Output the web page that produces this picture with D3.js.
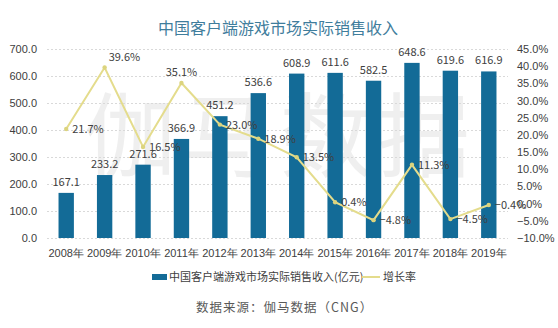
<!DOCTYPE html>
<html><head><meta charset="utf-8">
<script src="https://d3js.org/d3.v7.min.js"></script>
<style>
html,body{margin:0;padding:0;background:#fff;}
svg{display:block;font-family:"Noto Sans CJK SC","Noto Sans",sans-serif;}
</style></head>
<body>
<svg id="c" width="558" height="328"></svg>
<script>
const years = ["2008年","2009年","2010年","2011年","2012年","2013年","2014年","2015年","2016年","2017年","2018年","2019年"];
const revenue = [167.1,233.2,271.6,366.9,451.2,536.6,608.9,611.6,582.5,648.6,619.6,616.9];
const growth = [21.7,39.6,16.5,35.1,23.0,18.9,13.5,0.4,-4.8,11.3,-4.5,-0.4];
const leftTicks = [0,100,200,300,400,500,600,700];
const rightTicks = [-10,-5,0,5,10,15,20,25,30,35,40,45];
const titleText = "中国客户端游戏市场实际销售收入";
const barName = "中国客户端游戏市场实际销售收入(亿元)";
const lineName = "增长率";
const sourceText = "数据来源：伽马数据（CNG）";
const labelPos = ["r","tr","r","t","r","r","r","r","r","r","r","r"];

const svg = d3.select("#c");
const plotTop = 49, plotBottom = 238, plotLeft = 47, plotRight = 508;
const x = d3.scaleBand().domain(years).range([plotLeft, plotRight]).paddingInner(0.6).paddingOuter(0.3);
const yL = d3.scaleLinear().domain([0,700]).range([plotBottom, plotTop]);
const yR = d3.scaleLinear().domain([-10,45]).range([plotBottom, plotTop]);

// watermark
svg.append("text").attr("x", 280).attr("y", 170).attr("text-anchor","middle")
  .attr("font-size", 92).attr("fill", "#d8d8d8").attr("opacity", 0.4)
  .attr("letter-spacing", 6).text("伽马数据");

// title
svg.append("text").attr("x", 278).attr("y", 34).attr("text-anchor","middle")
  .attr("font-size", 16).attr("fill", "#3f7d9c").text(titleText);

// grid
svg.append("g").selectAll("line").data(leftTicks).join("line")
  .attr("x1", plotLeft).attr("x2", plotRight)
  .attr("y1", d => Math.round(yL(d)) + 0.5).attr("y2", d => Math.round(yL(d)) + 0.5)
  .attr("stroke", "#d9d9d9").attr("stroke-width", 1).attr("stroke-dasharray", "2,2");

// left axis
const gL = svg.append("g").attr("transform", `translate(${plotLeft},0)`)
  .call(d3.axisLeft(yL).tickValues(leftTicks).tickFormat(d3.format(".1f")).tickSize(0).tickPadding(10));
gL.select(".domain").remove();
gL.selectAll("text").attr("font-size", 11).attr("fill", "#404040");

// right axis
const gR = svg.append("g").attr("transform", `translate(${plotRight},0)`)
  .call(d3.axisRight(yR).tickValues(rightTicks).tickFormat(d => d3.format(".1f")(d) + "%").tickSize(0).tickPadding(9));
gR.select(".domain").remove();
gR.selectAll("text").attr("font-size", 11).attr("fill", "#404040");

// x axis
const gX = svg.append("g").attr("transform", `translate(0,${plotBottom})`)
  .call(d3.axisBottom(x).tickSize(0).tickPadding(11));
gX.select(".domain").remove();
gX.selectAll("text").attr("font-size", 11).attr("fill", "#404040");

// bars
svg.append("g").selectAll("rect").data(revenue).join("rect")
  .attr("x", (d,i) => x(years[i])).attr("width", x.bandwidth())
  .attr("y", d => yL(d)).attr("height", d => yL(0) - yL(d))
  .attr("fill", "#136b97");

svg.append("g").selectAll("text").data(revenue).join("text")
  .attr("x", (d,i) => x(years[i]) + x.bandwidth()/2).attr("y", d => yL(d) - 7)
  .attr("text-anchor","middle").attr("font-size", 11).attr("fill", "#404040")
  .text(d => d3.format(".1f")(d));

// line
const cx = i => x(years[i]) + x.bandwidth()/2;
const line = d3.line().x((d,i) => cx(i)).y(d => yR(d));
svg.append("path").datum(growth).attr("d", line)
  .attr("fill","none").attr("stroke","#e4dc8c").attr("stroke-width", 2);
svg.append("g").selectAll("circle").data(growth).join("circle")
  .attr("cx", (d,i) => cx(i)).attr("cy", d => yR(d)).attr("r", 2.2).attr("fill", "#dcd47e");

svg.append("g").selectAll("text").data(growth).join("text")
  .attr("x", (d,i) => labelPos[i] === "t" ? cx(i) : labelPos[i] === "tr" ? cx(i) + 4 : cx(i) + 6)
  .attr("y", (d,i) => labelPos[i] === "r" ? yR(d) + 4 : yR(d) - 7)
  .attr("text-anchor", (d,i) => labelPos[i] === "t" ? "middle" : "start")
  .attr("font-size", 11).attr("fill", "#404040")
  .text(d => d3.format(".1f")(d) + "%");

// legend
const lg = svg.append("g");
lg.append("rect").attr("x", 152).attr("y", 274).attr("width", 15).attr("height", 6).attr("fill", "#136b97");
lg.append("text").attr("x", 169).attr("y", 281).attr("font-size", 11).attr("fill", "#404040").text(barName);
lg.append("line").attr("x1", 362).attr("x2", 380).attr("y1", 277).attr("y2", 277)
  .attr("stroke", "#e4dc8c").attr("stroke-width", 2);
lg.append("text").attr("x", 383).attr("y", 281).attr("font-size", 11).attr("fill", "#404040").text(lineName);

// source
svg.append("text").attr("x", 196).attr("y", 312).attr("font-size", 12.5).attr("letter-spacing", 1)
  .attr("fill", "#595959").text(sourceText);
</script>
</body></html>
